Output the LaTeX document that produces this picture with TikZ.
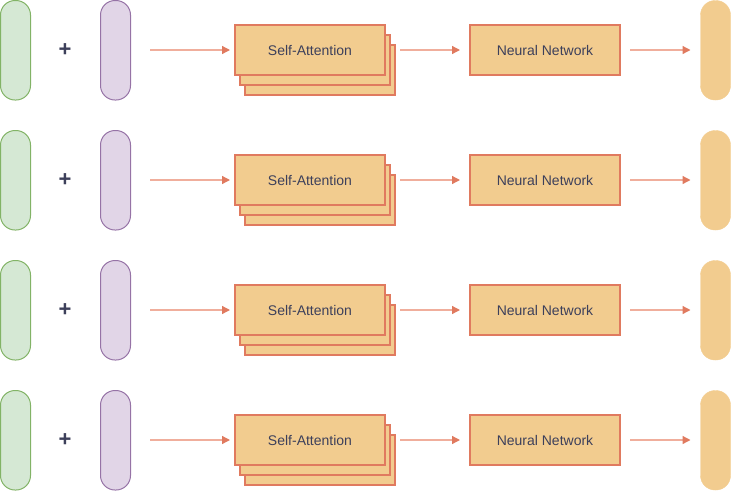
\documentclass[tikz,border=0pt]{standalone}
\usepackage{fontspec}
\setmainfont{Liberation Sans}
\usetikzlibrary{arrows.meta}
\definecolor{gfill}{HTML}{D5E8D4}
\definecolor{gline}{HTML}{82B366}
\definecolor{pfill}{HTML}{E1D5E7}
\definecolor{pline}{HTML}{9673A6}
\definecolor{ofill}{HTML}{F2CC8F}
\definecolor{oline}{HTML}{E07A5F}
\definecolor{txt}{HTML}{3D405B}
\definecolor{arrline}{HTML}{F0AE9C}
\tikzset{
  pill/.style={rounded corners=14.5pt, line width=1pt},
  gpill/.style={pill, fill=gfill, draw=gline},
  ppill/.style={pill, fill=pfill, draw=pline},
  opill/.style={fill=ofill, draw=ofill, rectangle, rounded corners=14.5pt, minimum width=30pt, minimum height=99.5pt, inner sep=0pt, outer sep=0pt, anchor=north west},
  obox/.style={fill=ofill, draw=oline, line width=1.6pt},
  lbl/.style={text=txt, font=\fontsize{14pt}{16pt}\selectfont, minimum width=150pt, minimum height=50pt, inner sep=0pt, outer sep=0pt, anchor=north west},
  plus/.style={text=txt, font=\fontsize{22pt}{24pt}\selectfont\bfseries},
  conn/.style={draw=arrline, line width=1.3pt, -{Triangle[length=8pt,width=8pt,color=oline,fill=oline]}, shorten >=5pt},
}
\begin{document}
\begin{tikzpicture}[x=1pt,y=-1pt]
\useasboundingbox (0,0) rectangle (731,491);
\foreach \i in {0,1,2,3} {
  \begin{scope}[yshift=-\i*130pt]
    \draw[gpill] (0.5,0.5) rectangle (30.5,100);
    \draw[ppill] (100.5,0.5) rectangle (130.5,100);
    \node[plus] (plus\i) at (65,50) {+};
    \coordinate (s\i) at (150,50);
    \draw[obox] (245,45) rectangle (395,95);
    \draw[obox] (240,35) rectangle (390,85);
    \node[obox, lbl] (sa\i) at (235,25) {Self-Attention};
    \node[obox, lbl] (nn\i) at (470,25) {Neural Network};
    \node[opill] (out\i) at (700.5,0.5) {};
    \coordinate (m\i) at (400,50);
    \coordinate (e\i) at (630,50);
    \draw[conn] (s\i) -- (s\i -| sa\i.west);
    \draw[conn, shorten >=10pt] (m\i) -- (m\i -| nn\i.west);
    \draw[conn, shorten >=10pt] (e\i) -- (e\i -| out\i.west);
  \end{scope}
}
\end{tikzpicture}
\end{document}
